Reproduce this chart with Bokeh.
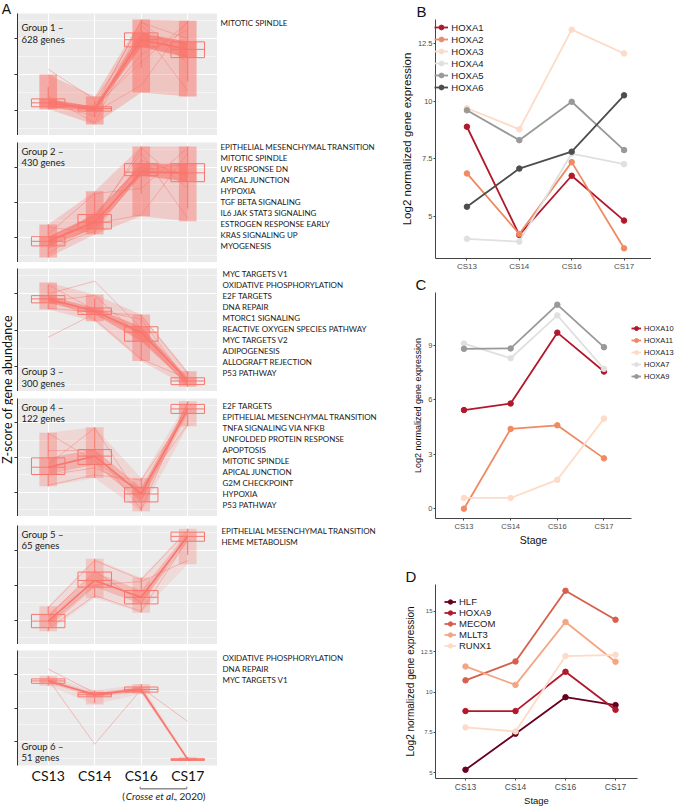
import numpy as np
from bokeh.plotting import figure
from bokeh.layouts import row, column
from bokeh.models import Range1d, FixedTicker, Label, Legend, LegendItem, LinearAxis, Grid
from bokeh.embed import file_html
from bokeh.resources import INLINE
from bokeh.core.properties import value

# ---------------------------------------------------------------- data
stages = ["CS13", "CS14", "CS16", "CS17"]
crosse_stages = ["CS16", "CS17"]

group_ids = [1, 2, 3, 4, 5, 6]
group_sizes = [628, 430, 300, 122, 65, 51]

# z-score summaries, one row per group, one column per stage
cloud_low = [
    [-0.97, -1.39, -0.50, -0.61],
    [-1.56, -0.91, -0.39, -0.53],
    [0.57, 0.24, -0.86, -1.57],
    [-0.83, -0.59, -1.55, 0.90],
    [-1.32, -0.37, -0.79, 0.59],
    [0.66, 0.10, 0.42, -1.56],
]
box_q1 = [
    [-0.90, -1.02, 0.77, 0.47],
    [-1.23, -0.75, 0.76, 0.59],
    [0.75, 0.43, -0.31, -1.51],
    [-0.49, -0.20, -1.28, 1.27],
    [-1.22, -0.06, -0.54, 1.25],
    [0.73, 0.33, 0.47, -1.55],
]
box_median = [
    [-0.79, -0.95, 0.97, 0.70],
    [-1.10, -0.56, 0.86, 0.84],
    [0.86, 0.52, -0.06, -1.41],
    [-0.28, 0.04, -1.05, 1.40],
    [-1.03, 0.13, -0.35, 1.39],
    [0.80, 0.39, 0.55, -1.52],
]
box_q3 = [
    [-0.68, -0.90, 1.16, 0.91],
    [-0.97, -0.34, 1.10, 1.10],
    [0.95, 0.61, 0.09, -1.32],
    [-0.01, 0.23, -0.87, 1.53],
    [-0.84, 0.37, -0.16, 1.51],
    [0.86, 0.45, 0.62, -1.50],
]
cloud_high = [
    [0.00, -0.61, 1.53, 1.50],
    [-0.62, 0.32, 1.59, 1.59],
    [1.31, 0.98, 0.43, -1.14],
    [0.71, 0.87, -0.59, 1.62],
    [-0.61, 0.75, 0.21, 1.61],
    [0.95, 0.52, 0.71, -1.45],
]

# a few visible individual gene trajectories per group (z-scores at the 4 stages)
genes_g1 = [[-0.80, -0.95, 1.50, 0.30], [-0.85, -1.15, 1.35, 0.45], [-0.75, -0.90, 0.35, 1.45],
            [-0.90, -1.05, -0.30, 1.50], [0.15, -0.70, 1.10, 0.85], [-0.60, -1.35, 1.25, -0.45],
            [-0.95, -0.85, 1.45, 1.00], [-0.80, -1.00, 0.55, 1.25]]
genes_g2 = [[-1.10, -0.50, 1.55, 0.40], [-1.30, -0.80, 1.20, 0.75], [-0.90, 0.25, 0.40, 1.55],
            [-1.45, -0.60, -0.35, 1.40], [-1.00, -0.40, 1.40, -0.45], [-0.70, -0.85, 0.90, 1.10],
            [-1.20, -0.30, 1.00, 0.80]]
genes_g3 = [[1.25, 0.55, 0.30, -1.45], [0.80, 0.95, -0.20, -1.50], [0.90, 0.30, -0.80, -1.35],
            [0.60, 0.50, 0.40, -1.20], [-0.20, 0.45, -0.10, -1.55], [1.00, 1.35, 0.05, -1.40]]
genes_g4 = [[0.70, -0.10, -1.00, 1.55], [-0.20, 0.85, -1.20, 1.40], [-0.80, -0.50, -0.65, 1.30],
            [0.20, 0.20, -1.50, 1.60], [-0.50, -0.30, -0.90, 0.95]]
genes_g5 = [[-0.65, 0.70, 0.15, 1.55], [-1.25, -0.30, -0.75, 1.30], [-0.90, 0.40, -0.50, 1.45],
            [-1.10, 0.00, 0.10, 0.70]]
genes_g6 = [[0.85, -1.07, 0.55, -1.52], [0.80, 0.40, 0.60, -0.40], [1.15, 0.45, 0.50, -1.50]]
gene_profiles = [genes_g1, genes_g2, genes_g3, genes_g4, genes_g5, genes_g6]

hallmarks_g1 = ["MITOTIC SPINDLE"]
hallmarks_g2 = ["EPITHELIAL MESENCHYMAL TRANSITION", "MITOTIC SPINDLE", "UV RESPONSE DN",
                "APICAL JUNCTION", "HYPOXIA", "TGF BETA SIGNALING", "IL6 JAK STAT3 SIGNALING",
                "ESTROGEN RESPONSE EARLY", "KRAS SIGNALING UP", "MYOGENESIS"]
hallmarks_g3 = ["MYC TARGETS V1", "OXIDATIVE PHOSPHORYLATION", "E2F TARGETS", "DNA REPAIR",
                "MTORC1 SIGNALING", "REACTIVE OXYGEN SPECIES PATHWAY", "MYC TARGETS V2",
                "ADIPOGENESIS", "ALLOGRAFT REJECTION", "P53 PATHWAY"]
hallmarks_g4 = ["E2F TARGETS", "EPITHELIAL MESENCHYMAL TRANSITION", "TNFA SIGNALING VIA NFKB",
                "UNFOLDED PROTEIN RESPONSE", "APOPTOSIS", "MITOTIC SPINDLE", "APICAL JUNCTION",
                "G2M CHECKPOINT", "HYPOXIA", "P53 PATHWAY"]
hallmarks_g5 = ["EPITHELIAL MESENCHYMAL TRANSITION", "HEME METABOLISM"]
hallmarks_g6 = ["OXIDATIVE PHOSPHORYLATION", "DNA REPAIR", "MYC TARGETS V1"]
hallmarks = [hallmarks_g1, hallmarks_g2, hallmarks_g3, hallmarks_g4, hallmarks_g5, hallmarks_g6]

# panel B
b_genes = ["HOXA1", "HOXA2", "HOXA3", "HOXA4", "HOXA5", "HOXA6"]
b_HOXA1 = [8.89, 4.21, 6.77, 4.83]
b_HOXA2 = [6.87, 4.25, 7.36, 3.63]
b_HOXA3 = [9.69, 8.78, 13.09, 12.06]
b_HOXA4 = [4.04, 3.92, 7.73, 7.27]
b_HOXA5 = [9.60, 8.31, 9.97, 7.88]
b_HOXA6 = [5.43, 7.08, 7.81, 10.25]
b_values = [b_HOXA1, b_HOXA2, b_HOXA3, b_HOXA4, b_HOXA5, b_HOXA6]
b_yticks = [5.0, 7.5, 10.0, 12.5]

# panel C
c_genes = ["HOXA10", "HOXA11", "HOXA13", "HOXA7", "HOXA9"]
c_HOXA10 = [5.43, 5.79, 9.69, 7.55]
c_HOXA11 = [0.00, 4.39, 4.59, 2.77]
c_HOXA13 = [0.59, 0.59, 1.59, 4.96]
c_HOXA7 = [9.09, 8.28, 10.64, 7.70]
c_HOXA9 = [8.80, 8.82, 11.23, 8.89]
c_values = [c_HOXA10, c_HOXA11, c_HOXA13, c_HOXA7, c_HOXA9]
c_yticks = [0, 3, 6, 9]

# panel D
d_genes = ["HLF", "HOXA9", "MECOM", "MLLT3", "RUNX1"]
d_HLF = [5.19, 7.42, 9.68, 9.19]
d_HOXA9 = [8.82, 8.82, 11.25, 8.90]
d_MECOM = [10.72, 11.89, 16.26, 14.47]
d_MLLT3 = [11.58, 10.44, 14.33, 11.87]
d_RUNX1 = [7.81, 7.56, 12.22, 12.30]
d_values = [d_HLF, d_HOXA9, d_MECOM, d_MLLT3, d_RUNX1]
d_yticks = [5.0, 7.5, 10.0, 12.5, 15.0]

# ---------------------------------------------------------------- styles
SALMON = "#F8766D"
PANEL_BG = "#EBEBEB"
A_FONT = "Lato"
R_FONT = "Liberation Sans"
B_COLORS = ["#B2182B", "#EF8A62", "#FDDBC7", "#E0E0E0", "#999999", "#4D4D4D"]
C_COLORS = ["#B2182B", "#EF8A62", "#FDDBC7", "#E0E0E0", "#999999"]
D_COLORS = ["#67001F", "#B2182B", "#D6604D", "#F4A582", "#FDDBC7"]

pos = np.arange(1, len(stages) + 1, dtype=float)
stage_overrides = {int(i + 1): s for i, s in enumerate(stages)}

LEFT_W = 13
A_FRAME_W = 200
A_TOP = [13, 7, 6, 7, 9, 6]
A_FH = [122, 120, 123, 118, 119, 115]
TEXT_W = 172
LINE_H = 11.0
TEXT_FIRST = [9, 4, 5, 7, 5, 7]
TEXT_X = [3, 3, 5, 5, 4, 5]
LABEL_SIDE = ["top", "top", "bottom", "top", "top", "bottom"]
LABEL_DY = [(14, 26), (9, 20), (20, 8), (9, 20), (9, 20), (19, 8)]
BOX_W = 0.72
CLOUD_W = 0.38


def common(**kw):
    base = dict(output_backend="svg", toolbar_location=None, outline_line_color=None,
                border_fill_color="white")
    base.update(kw)
    return base


def make_group(gi, with_axis):
    fh = A_FH[gi]
    dens = np.sqrt(group_sizes[gi] / max(group_sizes))
    p = figure(**common(frame_width=A_FRAME_W, frame_height=fh,
                        x_range=Range1d(0.34, 4.64), y_range=Range1d(-1.7, 1.7),
                        x_axis_location=None, y_axis_location="left",
                        min_border_left=3, min_border_right=0,
                        min_border_top=A_TOP[gi], min_border_bottom=0,
                        background_fill_color=PANEL_BG))
    yax = p.yaxis[0]
    yax.ticker = FixedTicker(ticks=[-1, 0, 1], minor_ticks=[-1.5, -0.5, 0.5, 1.5])
    yax.major_label_overrides = {-1: "", 0: "", 1: ""}
    yax.major_label_standoff = 0
    yax.axis_line_color = "#333333"
    yax.major_tick_line_color = "#333333"
    yax.major_tick_out = 3
    yax.major_tick_in = 0
    yax.minor_tick_line_color = None
    p.ygrid.grid_line_color = "white"
    p.ygrid.grid_line_width = 1.1
    p.ygrid.minor_grid_line_color = "white"
    p.ygrid.minor_grid_line_width = 0.5
    p.add_layout(Grid(dimension=0, ticker=FixedTicker(ticks=list(pos)),
                      grid_line_color="white", grid_line_width=1.1))
    if with_axis:
        xax = LinearAxis(ticker=FixedTicker(ticks=list(pos)), major_label_overrides=stage_overrides,
                         axis_line_color=None, major_tick_line_color=None, minor_tick_line_color=None,
                         major_tick_out=0, major_tick_in=0, major_label_standoff=1,
                         major_label_text_font=A_FONT, major_label_text_font_size="14px",
                         major_label_text_color="#111111")
        p.add_layout(xax, "below")

    lo = np.array(cloud_low[gi]); hi = np.array(cloud_high[gi])
    q1 = np.array(box_q1[gi]); q3 = np.array(box_q3[gi]); med = np.array(box_median[gi])
    iqr = q3 - q1
    w_hi = np.minimum(hi, q3 + 1.5 * iqr)
    w_lo = np.maximum(lo, q1 - 1.5 * iqr)

    # bundle of gene lines
    p.varea(x=pos, y1=lo, y2=hi, fill_color=SALMON, fill_alpha=0.06 + 0.26 * dens)
    p.varea(x=pos, y1=q1, y2=q3, fill_color=SALMON, fill_alpha=0.15 + 0.55 * dens)
    # jittered point clouds
    p.vbar(x=pos, width=CLOUD_W, bottom=lo, top=hi, fill_color=SALMON,
           fill_alpha=0.15 + 0.4 * dens, line_color=None)
    p.vbar(x=pos, width=CLOUD_W, bottom=q1, top=q3, fill_color=SALMON,
           fill_alpha=0.2 + 0.4 * dens, line_color=None)
    profiles = gene_profiles[gi]
    p.multi_line(xs=[list(pos)] * len(profiles), ys=profiles, line_color=SALMON,
                 line_alpha=0.55, line_width=0.8)
    p.line(x=pos, y=med, line_color=SALMON, line_width=1.6)
    # boxplots
    p.segment(x0=pos, y0=q3, x1=pos, y1=w_hi, line_color=SALMON, line_width=1)
    p.segment(x0=pos, y0=q1, x1=pos, y1=w_lo, line_color=SALMON, line_width=1)
    p.vbar(x=pos, width=BOX_W, bottom=q1, top=q3, fill_color=None, line_color=SALMON, line_width=1)
    p.segment(x0=pos - BOX_W / 2, y0=med, x1=pos + BOX_W / 2, y1=med, line_color=SALMON, line_width=1)

    l1 = f"Group {group_ids[gi]} \u2013"
    l2 = f"{group_sizes[gi]} genes"
    d1, d2 = LABEL_DY[gi]
    if LABEL_SIDE[gi] == "top":
        y1, y2 = fh - d1, fh - d2
    else:
        y1, y2 = d1, d2
    for txt, yy in ((l1, y1), (l2, y2)):
        p.add_layout(Label(x=4, y=yy, x_units="screen", y_units="screen", text=txt,
                           text_font=A_FONT, text_font_size="9.5px", text_baseline="middle",
                           text_color="#222222"))
    return p


def make_text(gi):
    fh = A_FH[gi]
    p = figure(**common(frame_width=TEXT_W, frame_height=fh,
                        x_range=Range1d(0, TEXT_W), y_range=Range1d(fh, 0),
                        x_axis_location=None, y_axis_location=None,
                        min_border_left=0, min_border_right=0,
                        min_border_top=A_TOP[gi], min_border_bottom=0))
    p.grid.grid_line_color = None
    lines = hallmarks[gi]
    ys = TEXT_FIRST[gi] + LINE_H * np.arange(len(lines))
    p.text(x=[TEXT_X[gi]] * len(lines), y=ys, text=lines, text_font=value(A_FONT),
           text_font_size="8px", text_baseline="middle", text_align="left", text_color="#1A1A1A")
    return p


# left strip: panel letter and shared y title
LEFT_H = 790
p_left = figure(**common(frame_width=LEFT_W, frame_height=LEFT_H, x_range=Range1d(0, 1), y_range=Range1d(0, 1),
                         x_axis_location=None, y_axis_location=None,
                         min_border_left=0, min_border_right=0, min_border_top=0, min_border_bottom=0))
p_left.grid.grid_line_color = None
p_left.add_layout(Label(x=6, y=LEFT_H - 8, x_units="screen", y_units="screen", text="A",
                        text_font=R_FONT, text_font_size="14px", text_align="center",
                        text_baseline="middle", text_color="#111111"))
p_left.add_layout(Label(x=6.5, y=LEFT_H - 389, x_units="screen", y_units="screen",
                        text="Z-score of gene abundance", angle=np.pi / 2,
                        text_font=A_FONT, text_font_size="12.5px", text_align="center",
                        text_baseline="middle", text_color="#111111"))

a_rows = []
for gi in range(6):
    a_rows.append(row(make_group(gi, gi == 5), make_text(gi)))

# footer with the Crosse et al. bracket
FOOT_H = 16
p_foot = figure(**common(frame_width=A_FRAME_W, frame_height=FOOT_H,
                         x_range=Range1d(0.34, 4.64), y_range=Range1d(0, 1),
                         x_axis_location=None, y_axis_location=None,
                         min_border_left=3, min_border_right=0, min_border_top=0, min_border_bottom=0))
p_foot.grid.grid_line_color = None
bx = [float(pos[stages.index(s)]) for s in crosse_stages]
p_foot.segment(x0=[bx[0]], x1=[bx[1]], y0=[0.86], y1=[0.86], line_color="#8C8C8C", line_width=1.3)
p_foot.segment(x0=bx, x1=bx, y0=[0.86, 0.86], y1=[1.0, 1.0], line_color="#8C8C8C", line_width=1.3)
CIT_Y = 0.4
p_foot.text(x=[bx[0]], y=[CIT_Y], text=["("], x_offset=-18, text_font=value(A_FONT),
            text_font_size="10px", text_baseline="middle", text_align="left", text_color="#222222")
p_foot.text(x=[bx[0]], y=[CIT_Y], text=["Crosse et al."], x_offset=-14.5, text_font=value(A_FONT),
            text_font_size="10px", text_font_style="italic", text_baseline="middle",
            text_align="left", text_color="#222222")
p_foot.text(x=[bx[0]], y=[CIT_Y], text=[", 2020)"], x_offset=34.5, text_font=value(A_FONT),
            text_font_size="10px", text_baseline="middle", text_align="left", text_color="#222222")
a_rows.append(row(p_foot))
a_col = column(*a_rows)


# ---------------------------------------------------------------- right panels
def line_panel(names, values, colors, fw, fh, xr, yr, yticks, top, left, right,
               tick_font, ytick_font, ytitle_font, xtitle, xtitle_font, letter, letter_dx):
    p = figure(**common(frame_width=fw, frame_height=fh, x_range=Range1d(*xr), y_range=Range1d(*yr),
                        min_border_left=left, min_border_right=right, min_border_top=top,
                        min_border_bottom=0))
    p.title.text = letter
    p.title.align = "left"
    p.title.offset = letter_dx
    p.title.text_font = R_FONT
    p.title.text_font_size = "15px"
    p.title.text_font_style = "normal"
    p.title.text_color = "#111111"
    p.title.standoff = 0
    p.grid.grid_line_color = None
    xa = p.xaxis[0]
    xa.ticker = FixedTicker(ticks=list(pos))
    xa.major_label_overrides = stage_overrides
    ya = p.yaxis[0]
    ya.ticker = FixedTicker(ticks=yticks)
    for ax in (xa, ya):
        ax.axis_line_color = "#444444"
        ax.axis_line_width = 1
        ax.major_tick_line_color = "#444444"
        ax.major_tick_out = 2
        ax.major_tick_in = 0
        ax.minor_tick_line_color = None
        ax.major_label_standoff = 1
        ax.major_label_text_font = R_FONT
        ax.major_label_text_color = "#4D4D4D"
    xa.major_label_text_font_size = tick_font
    ya.major_label_text_font_size = ytick_font
    ya.axis_label = "Log2 normalized gene expression"
    ya.axis_label_text_font = R_FONT
    ya.axis_label_text_font_size = ytitle_font
    ya.axis_label_text_font_style = "normal"
    ya.axis_label_text_color = "#111111"
    ya.axis_label_standoff = 2
    if xtitle:
        xa.axis_label = xtitle
        xa.axis_label_text_font = R_FONT
        xa.axis_label_text_font_size = xtitle_font
        xa.axis_label_text_font_style = "normal"
        xa.axis_label_text_color = "#111111"
        xa.axis_label_standoff = 0
    items = []
    for name, vals, col in zip(names, values, colors):
        lr = p.line(x=pos, y=vals, line_color=col, line_width=1.8)
        sr = p.scatter(x=pos, y=vals, size=5.5, fill_color=col, line_color=col)
        items.append(LegendItem(label=name, renderers=[lr, sr]))
    return p, items


# B
B_FH = 239
pb, items_b = line_panel(b_genes, b_values, B_COLORS, 220, B_FH, (0.4, 4.6), (3.19, 13.53), b_yticks,
                         17, 28, 4, "8px", "7.5px", "11.5px", None, None, "B", -19)
leg_b = Legend(items=items_b, location=(6, B_FH - 6 * 12 - 4 + 2), label_text_font=R_FONT,
               label_text_font_size="9.5px", label_text_color="#222222", glyph_width=14,
               glyph_height=12, label_height=12, spacing=0, padding=2, margin=0, label_standoff=3,
               background_fill_alpha=0, border_line_color=None)
pb.add_layout(leg_b)

# C
C_FH = 226
pc, items_c = line_panel(c_genes, c_values, C_COLORS, 196, C_FH, (0.39, 4.59), (-0.54, 11.9), c_yticks,
                         14, 30, 4, "7.5px", "7.5px", "9px", "Stage", "10.5px", "C", -20)
leg_c = Legend(items=items_c, location=(0, C_FH - 26 - 5 * 12 - 4), label_text_font=R_FONT,
               label_text_font_size="7.5px", label_text_color="#222222", glyph_width=10,
               glyph_height=12, label_height=12, spacing=0, padding=2, margin=0, label_standoff=3,
               background_fill_alpha=0, border_line_color=None)
pc.add_layout(leg_c, "right")

# D
D_FH = 194
pd, items_d = line_panel(d_genes, d_values, D_COLORS, 202, D_FH, (0.4, 4.44), (4.65, 16.65), d_yticks,
                         36, 46, 4, "8.5px", "6px", "10px", "Stage", "9.5px", "D", -30)
leg_d = Legend(items=items_d, location=(9, D_FH - 8 - 5 * 11 - 4), label_text_font=R_FONT,
               label_text_font_size="9.5px", label_text_color="#222222", glyph_width=12,
               glyph_height=11, label_height=11, spacing=0, padding=2, margin=0, label_standoff=3,
               background_fill_alpha=0, border_line_color=None)
pd.add_layout(leg_d)

right_col = column(pb, pc, pd)

layout = row(p_left, a_col, right_col)

with open("out.html", "w") as f:
    f.write(file_html(layout, INLINE))
